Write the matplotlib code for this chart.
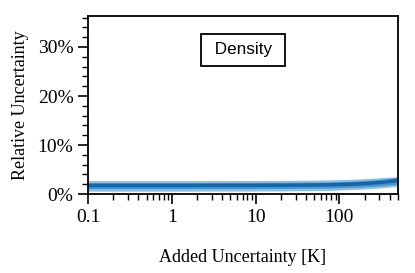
import numpy as np
import matplotlib.pyplot as plt
from matplotlib.ticker import FixedLocator, PercentFormatter, NullFormatter

# added uncertainty [K] and relative uncertainty [%]
added = [0.1, 0.2, 0.5, 1, 2, 5, 10, 20, 50, 80, 100, 150, 200, 300, 500]
mean = [1.75, 1.75, 1.75, 1.75, 1.76, 1.77, 1.78, 1.80, 1.85, 1.90, 1.95, 2.05, 2.15, 2.35, 2.75]
inner_lo = [1.10, 1.10, 1.10, 1.10, 1.11, 1.12, 1.13, 1.15, 1.20, 1.25, 1.30, 1.40, 1.48, 1.65, 2.00]
inner_hi = [2.35, 2.35, 2.35, 2.35, 2.36, 2.37, 2.38, 2.40, 2.45, 2.50, 2.55, 2.65, 2.78, 2.98, 3.45]
outer_lo = [0.60, 0.60, 0.60, 0.60, 0.61, 0.62, 0.63, 0.65, 0.70, 0.75, 0.85, 0.95, 1.05, 1.25, 1.60]
outer_hi = [2.75, 2.75, 2.75, 2.75, 2.76, 2.77, 2.78, 2.80, 2.85, 2.90, 2.95, 3.05, 3.15, 3.35, 3.55]

plt.rcParams['font.family'] = ['Liberation Serif', 'DejaVu Serif']

fig = plt.figure(figsize=(4.15, 2.73), dpi=100)
ax = fig.add_axes([0.212, 0.289, 0.747, 0.652])

ax.fill_between(added, outer_lo, outer_hi, color='#8fc0e0', lw=0)
ax.fill_between(added, inner_lo, inner_hi, color='#4a95cc', lw=0)
ax.plot(added, mean, color='#1565a8', lw=2.5)

ax.set_xscale('log')
ax.set_xlim(0.1, 500)
ax.set_ylim(0, 36.3)
ax.set_yticks([0, 10, 20, 30])
ax.yaxis.set_minor_locator(FixedLocator(np.arange(0, 36.3, 2)))
ax.yaxis.set_major_formatter(PercentFormatter(decimals=0))
ax.set_xticks([0.1, 1, 10, 100])
ax.set_xticklabels(['0.1', '1', '10', '100'])
ax.xaxis.set_minor_formatter(NullFormatter())

ax.tick_params(which='major', length=7, width=1.2, labelsize=14, direction='out')
ax.tick_params(which='minor', length=4, width=1.0, direction='out')
for s in ax.spines.values():
    s.set_linewidth(1.3)

ax.set_xlabel('Added Uncertainty [K]', fontsize=13, labelpad=17)
ax.set_ylabel('Relative Uncertainty', fontsize=13, labelpad=6)

ax.text(0.5, 0.81, ' Density ', transform=ax.transAxes, ha='center', va='center',
        fontsize=12.3, family='Liberation Sans',
        bbox=dict(boxstyle='square,pad=0.5', fc='white', ec='black', lw=1.3))

fig.savefig('out.png', dpi=100)
